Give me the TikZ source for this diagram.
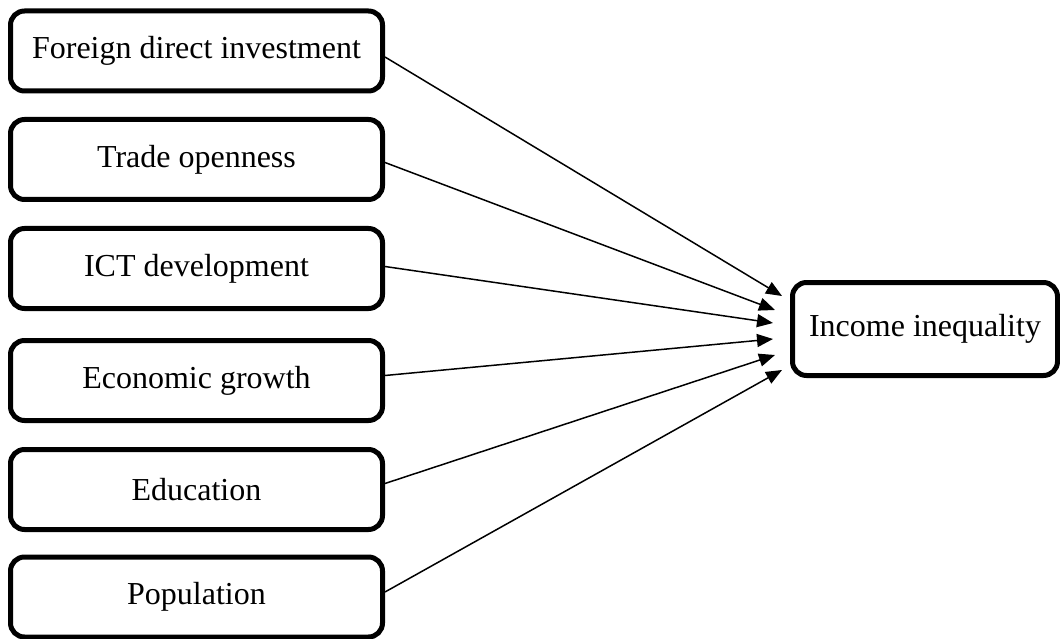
\documentclass[tikz,border=0pt]{standalone}
\usepackage{fontspec}
\setmainfont{Liberation Serif}
\usetikzlibrary{arrows.meta}
\begin{document}
\begin{tikzpicture}[x=1pt,y=-1pt,
  box/.style={draw, line width=5pt, rounded corners=14pt, minimum width=372pt,
    minimum height=80pt, inner sep=0pt, font=\fontsize{32}{38}\selectfont},
  outbox/.style={box, minimum width=265pt, minimum height=93pt},
  conn/.style={line width=1.5pt, -{Triangle[length=16pt,width=13pt]}}]
\useasboundingbox (0,0) rectangle (1060,639);
\node[box] (b1) at (196.5,51) {Foreign direct investment};
\node[box] (b2) at (196.5,159.5) {Trade openness};
\node[box] (b3) at (196.5,268.5) {ICT development};
\node[box] (b4) at (196.5,380.5) {Economic growth};
\node[box] (b5) at (196.5,489.5) {Education};
\node[box] (b6) at (196.5,597) {Population};
\node[outbox] (out) at (925,329) {Income inequality};
\coordinate (t1) at (782,296);
\coordinate (t2) at (775,310);
\coordinate (t3) at (773,323);
\coordinate (t4) at (773,339);
\coordinate (t5) at (775,355);
\coordinate (t6) at (782,370);
\draw[conn] ([yshift=-6pt]b1.east) -- (t1);
\draw[conn] ([yshift=-3pt]b2.east) -- (t2);
\draw[conn] ([yshift=2pt]b3.east) -- (t3);
\draw[conn] ([yshift=5pt]b4.east) -- (t4);
\draw[conn] ([yshift=6pt]b5.east) -- (t5);
\draw[conn] ([yshift=5pt]b6.east) -- (t6);
\end{tikzpicture}
\end{document}
